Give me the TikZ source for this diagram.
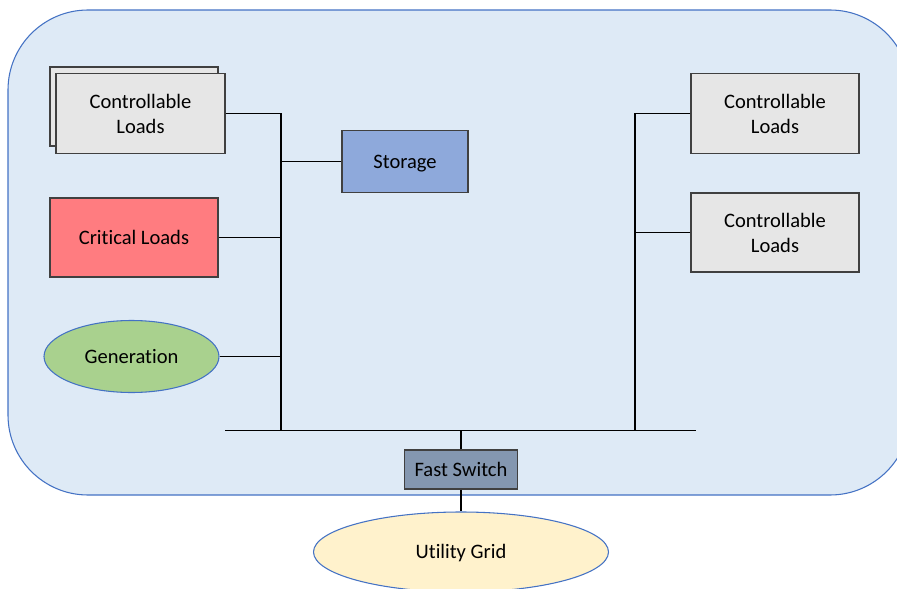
\documentclass[tikz,border=0pt]{standalone}
\usepackage{fontspec}
\setmainfont{Carlito}[Ligatures=NoCommon]
\usetikzlibrary{shapes.geometric}
\definecolor{bgfill}{HTML}{DEEAF6}
\definecolor{bgline}{HTML}{4472C4}
\definecolor{greyfill}{HTML}{E6E6E6}
\definecolor{boxline}{HTML}{404040}
\definecolor{storfill}{HTML}{8EA9DB}
\definecolor{critfill}{HTML}{FF7C80}
\definecolor{genfill}{HTML}{A9D18E}
\definecolor{fsfill}{HTML}{8497B0}
\definecolor{ugfill}{HTML}{FFF2CC}
\begin{document}
\begin{tikzpicture}[x=0.75pt,y=-0.75pt,
  lbl/.style={font=\fontsize{15.4}{18.8}\selectfont, align=center, text=black},
  one/.style={text height=9.9pt, text depth=0pt},
  box/.style={lbl, draw=boxline, line width=0.8pt, rectangle, inner sep=0pt},
  oval/.style={lbl, one, draw=bgline, line width=0.8pt, ellipse, inner sep=0pt},
  wire/.style={draw=black, line width=1.3pt}]
\useasboundingbox (0,0) rectangle (897,589);
\begin{scope}
\clip (0,0) rectangle (897,589);
\draw[fill=bgfill, draw=bgline, line width=0.8pt, rounded corners=60pt] (8,10) rectangle (910,495);

\node[box, fill=greyfill, minimum width=126pt, minimum height=59.25pt] (clb) at (134,106.5) {};
\node[box, fill=greyfill, minimum width=126.75pt, minimum height=60pt] (clf) at (140.5,113.5) {Controllable\\Loads};
\node[box, one, fill=storfill, minimum width=94.5pt, minimum height=46.5pt] (stor) at (405,161.5) {Storage};
\node[box, one, fill=critfill, minimum width=126pt, minimum height=59.25pt] (crit) at (134,237.5) {Critical Loads};
\node[oval, fill=genfill, minimum width=131.25pt, minimum height=54pt] (gen) at (131.5,356.5) {Generation};
\node[box, fill=greyfill, minimum width=126pt, minimum height=60pt] (rc1) at (775,113.5) {Controllable\\Loads};
\node[box, fill=greyfill, minimum width=126pt, minimum height=59.25pt] (rc2) at (775,232.5) {Controllable\\Loads};
\node[box, one, fill=fsfill, minimum width=84.75pt, minimum height=29.25pt] (fs) at (461,469.5) {Fast Switch};
\node[oval, fill=ugfill, minimum width=221.25pt, minimum height=60pt] (ug) at (461,552) {Utility Grid};

\coordinate (bl) at (281,430.5);
\coordinate (br) at (635,430.5);
\coordinate (b1) at (225,430.5);
\coordinate (b2) at (696,430.5);

\draw[wire] (clf.east) -| (bl);
\draw[wire] (stor.west) -- (stor.west -| bl);
\draw[wire] (crit.east) -- (crit.east -| bl);
\draw[wire] (gen.east) -- (gen.east -| bl);
\draw[wire] (b1) -- (b2);
\draw[wire] (rc1.west) -| (br);
\draw[wire] (rc2.west) -- (rc2.west -| br);
\draw[wire] (fs.north) -- (fs.north |- b1);
\draw[wire] (fs.south) -- (ug.north);
\end{scope}
\end{tikzpicture}
\end{document}
